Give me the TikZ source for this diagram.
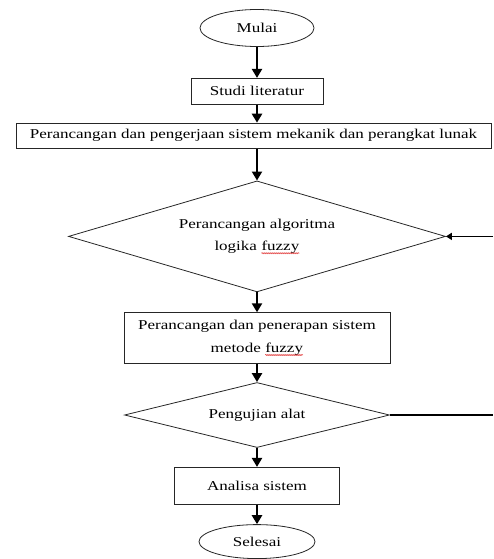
\documentclass[tikz,border=0pt]{standalone}
\usepackage{fontspec}
\setmainfont{Liberation Serif}[FakeStretch=1.26]
\usepackage{tikz}
\usetikzlibrary{arrows.meta,positioning,shapes.geometric,decorations.pathmorphing}
\newcommand{\spellwave}[1]{\tikz[baseline=(spellw.base)]{\node[rectangle, draw=none, inner sep=0pt, outer sep=0pt, minimum width=0pt, minimum height=0pt] (spellw) {#1}; \draw[red!85!black, line width=0.45pt, decorate, decoration={snake, amplitude=0.6pt, segment length=2pt}] ([yshift=-2.6pt]spellw.base west) -- ([yshift=-2.6pt]spellw.base east);}}

\begin{document}
\begin{tikzpicture}[
  x=1pt, y=-1pt,
  every node/.style={font=\fontsize{13.5}{22.5}\selectfont, align=center},
  terminal/.style={ellipse, draw=black!85, line width=0.8pt, minimum width=114pt, minimum height=37pt, inner sep=0pt},
  process/.style={rectangle, draw=black!85, line width=0.8pt, inner sep=0pt},
  decision/.style={diamond, draw=black!85, line width=0.8pt, inner sep=0pt},
  flow/.style={-{Triangle[length=9pt,width=10pt]}, line width=2.4pt, black},
  backflow/.style={-{Triangle[length=6pt,width=7pt]}, line width=1.6pt, black},
  loopline/.style={line width=2.4pt, black}
]
\useasboundingbox (0,0) rectangle (493,559);
\node[terminal] (mulai) at (257,28) {Mulai};
\node[process, minimum width=132pt, minimum height=26pt, below=31pt of mulai] (studi) {Studi literatur};
\node[process, minimum width=475pt, minimum height=25pt, below=18pt of studi, xshift=-3.5pt] (mekanik) {Perancangan dan pengerjaan sistem mekanik dan perangkat lunak};
\node[decision, aspect=3.4, minimum width=377pt, minimum height=111pt, below=32pt of mekanik, xshift=3.5pt] (algoritma) {Perancangan algoritma\\logika \spellwave{fuzzy}};
\node[process, minimum width=266pt, minimum height=51pt, below=20pt of algoritma] (penerapan) {Perancangan dan penerapan sistem\\metode \spellwave{fuzzy}};
\node[decision, aspect=4.1, minimum width=265pt, minimum height=65pt, below=18pt of penerapan] (uji) {Pengujian alat};
\node[process, minimum width=165pt, minimum height=37pt, below=19pt of uji] (analisa) {Analisa sistem};
\node[terminal, minimum width=116pt, minimum height=34pt, below=19.5pt of analisa] (selesai) {Selesai};

\coordinate (balik) at (algoritma.east -| 493,0);
\coordinate (keluar) at (uji.east -| 493,0);

\draw[flow] (mulai) -- (studi);
\draw[flow] (studi) -- (mekanik.north -| studi.south);
\draw[flow] (mekanik.south -| algoritma.north) -- (algoritma);
\draw[flow] (algoritma) -- (penerapan);
\draw[flow] (penerapan) -- (uji);
\draw[flow] (uji) -- (analisa);
\draw[flow] (analisa) -- (selesai);
\draw[backflow] (balik) -- (algoritma.east);
\draw[loopline] (uji.east) -- (keluar);
\end{tikzpicture}
\end{document}
